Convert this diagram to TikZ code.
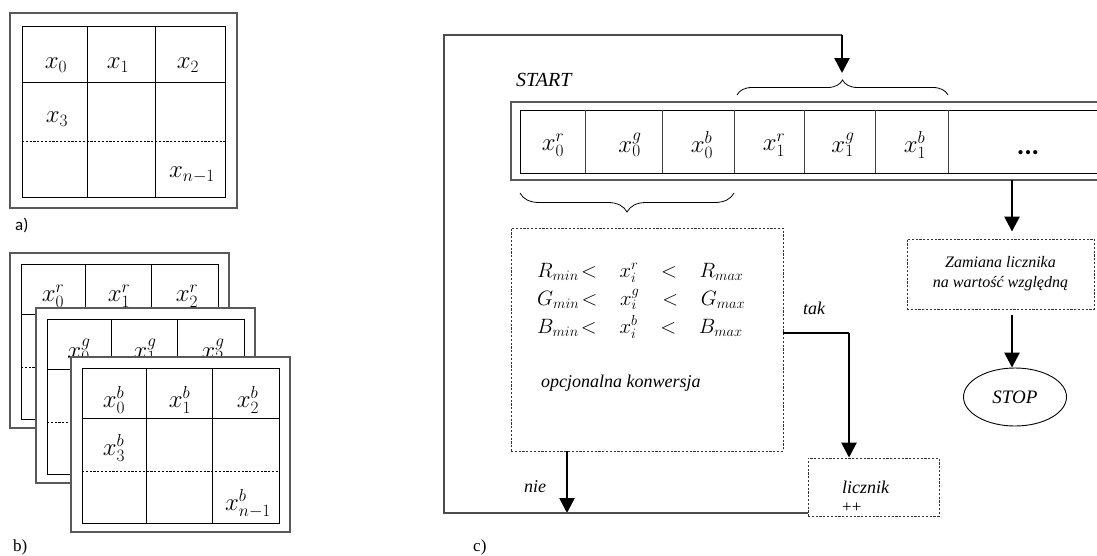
\documentclass[tikz,border=0pt]{standalone}
\usepackage[no-math]{fontspec}
\setmainfont{Liberation Serif}[ItalicFont={Liberation Serif Italic}]
\newfontfamily\calibri{Carlito}
\usetikzlibrary{arrows.meta,decorations.pathreplacing,shapes.geometric,positioning}

\tikzset{
  imgframe/.style={draw=black!65, line width=1.3pt, fill=white},
  imggrid/.style={draw=black, line width=0.9pt},
  rowline/.style={draw=black, line width=0.8pt, dash pattern=on 2.2pt off 1.6pt},
  cellval/.style={font=\fontsize{23}{25}\selectfont, inner sep=0pt},
  flowbox/.style={draw=black!80, line width=0.9pt, dash pattern=on 2.2pt off 1.6pt, inner sep=0pt},
  flowtext/.style={font=\itshape\fontsize{18}{21}\selectfont, inner sep=0pt},
  flowarrow/.style={line width=2.6pt, -{Triangle[width=15pt,length=15pt]}},
  flowline/.style={draw=black!70, line width=1.1pt},
}

\begin{document}
\begin{tikzpicture}[x=1pt,y=-1pt]
    \useasboundingbox (0,0) rectangle (1097,555);

    % a) one channel
    \draw[imgframe] (10,13) rectangle (237,208);
    \draw[imggrid] (22,26) rectangle (225,197);
    \draw[imggrid] (87,26) -- (87,197) (155,26) -- (155,197) (22,82) -- (225,82);
    \draw[rowline] (22,141) -- (225,141);
    \node[cellval] (a0) at (56,65) {$x_0$};
    \node[cellval] (a1) at (118,65) {$x_1$};
    \node[cellval] (a2) at (188,65) {$x_2$};
    \node[cellval] (a3) at (57,119) {$x_3$};
    \node[cellval] (an) at (192,175) {$x_{n-1}$};
    \node[font=\calibri\fontsize{17}{19}\selectfont, anchor=base west, inner sep=0pt] (labA) at (15,230) {a)};

    % b) three channels, back to front
    \foreach \lx/\ly/\ch in {10/253/r, 36/308/g, 71/357/b} {
        \begin{scope}[shift={(\lx,\ly)}]
            \draw[imgframe] (0,0) rectangle (219,175);
            \draw[imggrid] (11,11) rectangle (208,166);
            \draw[imggrid] (75,11) -- (75,166) (141,11) -- (141,166) (11,61) -- (208,61);
            \draw[rowline] (11,114) -- (208,114);
            \node[cellval] (\ch0) at (43,43) {$x_0^{\ch}$};
            \node[cellval] (\ch1) at (109,43) {$x_1^{\ch}$};
            \node[cellval] (\ch2) at (177,43) {$x_2^{\ch}$};
        \end{scope}
    }
    \node[cellval] (b3) at (114,448) {$x_3^b$};
    \node[cellval] (bn) at (248,504) {$x_{n-1}^b$};
    \node[font=\fontsize{17}{19}\selectfont, anchor=base west, inner sep=0pt] (labB) at (13,551) {b)};

    % c) pixel stream
    \draw[imgframe, fill=none] (1097,102) -- (511,102) -- (511,180) -- (1097,180);
    \draw[imggrid] (1097,110) -- (520,110) -- (520,173) -- (1097,173);
    \foreach \cx in {585,662,734,804,875,948}
        \draw[imggrid, draw=black!75] (\cx,110) -- (\cx,173);
    \foreach \cx/\val [count=\i] in {553/x_0^r, 630/x_0^g, 702/x_0^b, 774/x_1^r, 843/x_1^g, 915/x_1^b}
        \node[cellval] (s\i) at (\cx,145) {$\val$};
    \node[font=\calibri\bfseries\fontsize{28}{30}\selectfont, anchor=base, inner sep=0pt] (sdots) at (1028,154) {...};
    \node[flowtext, font=\itshape\fontsize{20}{22}\selectfont, anchor=west] (start) at (516,80) {START};

    % braces over one pixel
    \draw[decorate, decoration={brace, amplitude=15pt}, line width=0.8pt] (737,95) -- (948,95);
    \draw[decorate, decoration={brace, mirror, amplitude=19pt}, line width=0.8pt] (520,193) -- (734,193);

    % flow boxes
    \node[flowbox, minimum width=272pt, minimum height=223pt] (cond) at (647,339.5) {};
    \node[font=\fontsize{22}{28}\selectfont, align=left, anchor=north west, inner sep=0pt] (range) at (537,263)
        {$R_{min}\!<\;\;\ x_i^r\;\;\ <\;\;\ R_{max}$\\$G_{min}\!<\;\;\ x_i^g\;\;\ <\;\;\ G_{max}$\\$B_{min}\!<\;\;\ x_i^b\;\;\ <\;\;\ B_{max}$};
    \node[flowtext, anchor=west] (conv) at (541,383) {opcjonalna konwersja};

    \node[flowbox, minimum width=131pt, minimum height=58pt] (licznik) at (873.5,487) {};
    \node[flowtext, anchor=west] (liczText) at (842,487) {licznik};
    \node[font=\fontsize{17}{19}\selectfont, anchor=west, inner sep=0pt] (liczPP) at (842,508) {++};

    \node[flowbox, minimum width=187pt, minimum height=70pt, align=center,
          font=\itshape\fontsize{16}{20}\selectfont] (zamiana) at (1000.5,274) {Zamiana licznika\\na wartość względną};
    \node[ellipse, draw, line width=0.9pt, minimum width=103pt, minimum height=58pt, inner sep=0pt,
          font=\itshape\fontsize{19}{21}\selectfont] (stop) at (1015,397) {STOP};

    \node[flowtext] (tak) at (814,308) {tak};
    \node[flowtext] (nie) at (535,487) {nie};

    % connectors
    \coordinate (stripOut) at (1012,180);
    \draw[flowarrow, shorten >=7pt] (stripOut) -- (stripOut |- zamiana.north);
    \draw[flowarrow, shorten <=6pt] (zamiana.south -| stripOut) -- (stop.north -| stripOut);

    \coordinate (takTurn) at (849,333);
    \draw[flowline, draw=black] (cond.east |- takTurn) -- (takTurn);
    \draw[flowarrow] (takTurn) -- (takTurn |- licznik.north);

    \coordinate (nieEnd) at (567,513);
    \coordinate (loopSW) at (444,513);
    \coordinate (loopNW) at (444,35);
    \coordinate (loopNE) at (842,35);
    \coordinate (braceTip) at (842,80);
    \draw[flowarrow] (cond.south -| nieEnd) -- (nieEnd);
    \draw[flowline] (licznik.west |- loopSW) -- (loopSW) -- (loopNW) -- (loopNE);
    \draw[flowarrow, shorten >=7pt] (loopNE) -- (braceTip);

    \node[font=\fontsize{17}{19}\selectfont, anchor=base west, inner sep=0pt] (labC) at (473,551) {c)};
\end{tikzpicture}
\end{document}
